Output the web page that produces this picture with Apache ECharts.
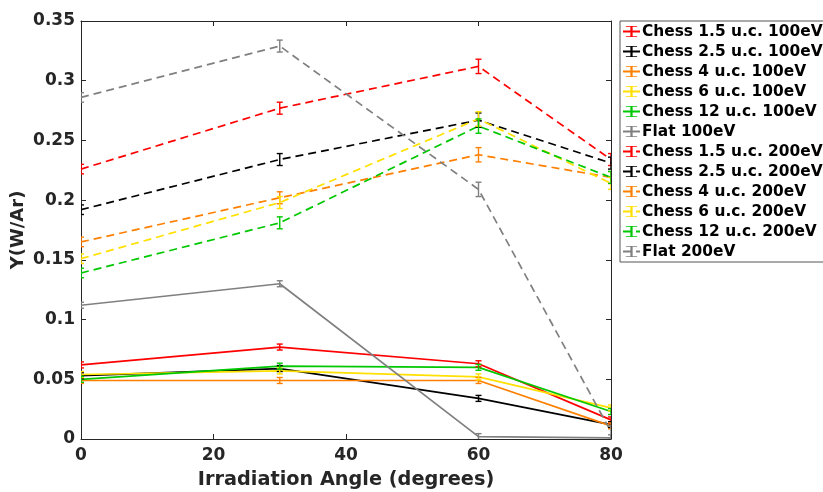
<!DOCTYPE html>
<html><head><meta charset="utf-8">
<script src="https://cdn.jsdelivr.net/npm/echarts@6/dist/echarts.min.js"></script>
<style>html,body{margin:0;padding:0;background:#fff}#c{width:823px;height:492px}</style>
</head><body><div id="c"></div>
<script>
// ---- data ----
const angles = [0, 30, 60, 80];
const xTicks = [0, 20, 40, 60, 80];
const yTicks = [0, 0.05, 0.1, 0.15, 0.2, 0.25, 0.3, 0.35];

const names = [
  'Chess 1.5 u.c. 100eV', 'Chess 2.5 u.c. 100eV', 'Chess 4 u.c. 100eV',
  'Chess 6 u.c. 100eV', 'Chess 12 u.c. 100eV', 'Flat 100eV',
  'Chess 1.5 u.c. 200eV', 'Chess 2.5 u.c. 200eV', 'Chess 4 u.c. 200eV',
  'Chess 6 u.c. 200eV', 'Chess 12 u.c. 200eV', 'Flat 200eV'
];

const chess15_100 = [0.062, 0.077, 0.063, 0.016];
const chess25_100 = [0.053, 0.059, 0.034, 0.012];
const chess4_100  = [0.049, 0.049, 0.049, 0.011];
const chess6_100  = [0.054, 0.057, 0.052, 0.026];
const chess12_100 = [0.050, 0.061, 0.060, 0.023];
const flat_100    = [0.112, 0.130, 0.002, 0.001];

const chess15_200 = [0.226, 0.277, 0.312, 0.234];
const chess25_200 = [0.192, 0.234, 0.267, 0.231];
const chess4_200  = [0.165, 0.202, 0.238, 0.219];
const chess6_200  = [0.151, 0.198, 0.268, 0.214];
const chess12_200 = [0.139, 0.181, 0.262, 0.219];
const flat_200    = [0.286, 0.329, 0.209, 0.006];

// error half-widths
const err100 = [0.0025, 0.0025, 0.0025, 0.0025];
const err200 = [0.004, 0.005, 0.006, 0.005];

const colors = ['#ff0000', '#000000', '#ff8000', '#ffe000', '#00c800', '#808080'];

const values = [chess15_100, chess25_100, chess4_100, chess6_100, chess12_100, flat_100,
                chess15_200, chess25_200, chess4_200, chess6_200, chess12_200, flat_200];

// ---- chart ----
const FONT = 'DejaVu Sans';
const AXC = '#262626';
const ibeam = 'path://M0,0H6V1H3.6V11H6V12H0V11H2.4V1H0Z';

const series = [];
values.forEach((vals, i) => {
  const color = colors[i % 6];
  const dashed = i >= 6;
  series.push({
    name: names[i],
    type: 'line',
    data: angles.map((a, k) => [a, vals[k]]),
    symbol: ibeam,
    symbolKeepAspect: true,
    showSymbol: false,
    color: color,
    itemStyle: { color: color, borderWidth: 0 },
    lineStyle: { color: color, width: 1.7, type: dashed ? [8, 5] : 'solid' },
    emphasis: { disabled: true },
    silent: true,
    z: 2 + i
  });
});
values.forEach((vals, i) => {
  const color = colors[i % 6];
  const errs = i >= 6 ? err200 : err100;
  series.push({
    name: 'err' + i,
    type: 'custom',
    clip: true,
    silent: true,
    z: 20 + i,
    data: angles.map((a, k) => [a, vals[k] - errs[k], vals[k] + errs[k]]),
    renderItem: function (params, api) {
      const x = api.value(0);
      const lo = api.coord([x, api.value(1)]);
      const hi = api.coord([x, api.value(2)]);
      const hw = 3;
      const st = { stroke: color, lineWidth: 1.4 };
      return {
        type: 'group',
        children: [
          { type: 'line', shape: { x1: lo[0], y1: lo[1], x2: hi[0], y2: hi[1] }, style: st },
          { type: 'line', shape: { x1: lo[0] - hw, y1: lo[1], x2: lo[0] + hw, y2: lo[1] }, style: st },
          { type: 'line', shape: { x1: hi[0] - hw, y1: hi[1], x2: hi[0] + hw, y2: hi[1] }, style: st }
        ]
      };
    }
  });
});

const chart = echarts.init(document.getElementById('c'), null, { renderer: 'canvas' });
chart.setOption({
  animation: false,
  backgroundColor: '#fff',
  textStyle: { fontFamily: FONT },
  grid: { left: 81, right: 212, top: 21, bottom: 53, containLabel: false, outerBoundsMode: 'none' },
  legend: {
    data: names,
    orient: 'vertical',
    left: 620,
    top: 21,
    padding: [3, 8, 3, 2],
    itemWidth: 17,
    itemHeight: 14,
    itemGap: 5,
    backgroundColor: '#fff',
    borderColor: '#555',
    borderWidth: 1,
    borderRadius: 0,
    selectedMode: false,
    itemStyle: { borderWidth: 0 },
    textStyle: { fontFamily: FONT, fontWeight: 'bold', fontSize: 15.4, color: '#000', padding: [0, 0, 0, -3] }
  },
  xAxis: [{
    type: 'value', min: xTicks[0], max: xTicks[xTicks.length - 1], interval: xTicks[1] - xTicks[0],
    name: 'Irradiation Angle (degrees)', nameLocation: 'middle', nameGap: 31, nameMoveOverlap: false,
    nameTextStyle: { fontFamily: FONT, fontWeight: 'bold', fontSize: 19.3, color: '#262626' },
    axisLine: { show: true, onZero: false, lineStyle: { color: AXC, width: 1 } },
    axisTick: { show: true, inside: true, length: 5, lineStyle: { color: AXC } },
    axisLabel: { margin: 8, fontFamily: FONT, fontWeight: 'bold', fontSize: 17, color: '#262626' },
    splitLine: { show: false }
  }, {
    type: 'value', position: 'top', min: xTicks[0], max: xTicks[xTicks.length - 1], interval: xTicks[1] - xTicks[0],
    axisLine: { show: true, onZero: false, lineStyle: { color: AXC, width: 1 } },
    axisTick: { show: true, inside: true, length: 5, lineStyle: { color: AXC } },
    axisLabel: { show: false }, splitLine: { show: false }
  }],
  yAxis: [{
    type: 'value', min: yTicks[0], max: yTicks[yTicks.length - 1], interval: yTicks[1] - yTicks[0],
    name: 'Y(W/Ar)', nameLocation: 'middle', nameGap: 54, nameMoveOverlap: false,
    nameTextStyle: { fontFamily: FONT, fontWeight: 'bold', fontSize: 18, color: '#262626' },
    axisLine: { show: true, onZero: false, lineStyle: { color: AXC, width: 1 } },
    axisTick: { show: true, inside: true, length: 5, lineStyle: { color: AXC } },
    axisLabel: { margin: 6, fontFamily: FONT, fontWeight: 'bold', fontSize: 17, color: '#262626' },
    splitLine: { show: false }
  }, {
    type: 'value', position: 'right', min: yTicks[0], max: yTicks[yTicks.length - 1], interval: yTicks[1] - yTicks[0],
    axisLine: { show: true, onZero: false, lineStyle: { color: AXC, width: 1 } },
    axisTick: { show: true, inside: true, length: 5, lineStyle: { color: AXC } },
    axisLabel: { show: false }, splitLine: { show: false }
  }],
  series: series
});
</script>
</body></html>
